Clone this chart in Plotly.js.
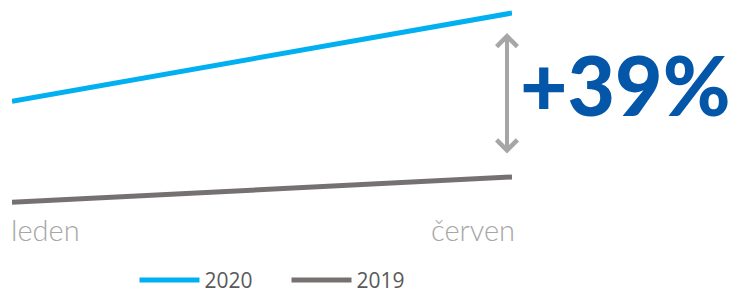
<!DOCTYPE html>
<html>
<head>
<meta charset="utf-8">
<script src="https://cdn.plot.ly/plotly-3.0.1.min.js"></script>
<style>html,body{margin:0;padding:0;background:#fff;}#chart{width:734px;height:293px;}</style>
</head>
<body>
<div id="chart"></div>
<script>
const months = ['leden', 'červen'];
const seriesNames = ['2020', '2019'];
const values2020 = [118, 139];
const values2019 = [94, 100];
const colors = ['#00B0F0', '#767171'];

const growth = Math.round((values2020[1] / values2019[1] - 1) * 100);

const traces = [
  {x: months, y: values2020, name: seriesNames[0], type: 'scatter', mode: 'lines',
   line: {color: colors[0], width: 5}},
  {x: months, y: values2019, name: seriesNames[1], type: 'scatter', mode: 'lines',
   line: {color: colors[1], width: 5}}
];

const layout = {
  width: 734, height: 293,
  margin: {l: 12, r: 222, t: 0, b: 0, pad: 0, autoexpand: false},
  paper_bgcolor: '#fff', plot_bgcolor: '#fff',
  xaxis: {type: 'category', range: [0, 1], visible: false, fixedrange: true},
  yaxis: {range: [72.41, 142.09], visible: false, fixedrange: true},
  showlegend: true,
  legend: {orientation: 'h', x: 0.245, xanchor: 'left', y: 0.043, yanchor: 'middle',
           itemwidth: 60, entrywidth: 77, entrywidthmode: 'pixels',
           font: {family: 'Open Sans', size: 21, color: '#595959'},
           bgcolor: 'rgba(0,0,0,0)'},
  annotations: [
    {x: months[0], y: 0.218, xref: 'x', yref: 'paper', text: months[0], showarrow: false,
     xanchor: 'left', yanchor: 'middle', xshift: -3,
     font: {family: 'Lato', size: 29, color: '#A6A6A6', weight: 300}},
    {x: months[1], y: 0.218, xref: 'x', yref: 'paper', text: months[1], showarrow: false,
     xanchor: 'right', yanchor: 'middle', xshift: 5,
     font: {family: 'Lato', size: 29, color: '#A6A6A6', weight: 300}},
    {x: months[1], y: values2020[1], ax: months[1], ay: values2019[1], xref: 'x', yref: 'y',
     axref: 'x', ayref: 'y', text: '', showarrow: true, arrowside: 'end+start',
     arrowhead: 4, startarrowhead: 4, arrowsize: 1, startarrowsize: 1, arrowwidth: 4,
     arrowcolor: '#A6A6A6', standoff: 20, startstandoff: 22, xshift: -5},
    {x: 1, y: 0.715, xref: 'paper', yref: 'paper', text: '+' + growth + '%', showarrow: false,
     xanchor: 'left', yanchor: 'middle', xshift: 6,
     font: {family: 'Lato', size: 82, color: '#0356A8', weight: 900}}
  ]
};

Plotly.newPlot('chart', traces, layout, {displayModeBar: false, staticPlot: true});
</script>
</body>
</html>
